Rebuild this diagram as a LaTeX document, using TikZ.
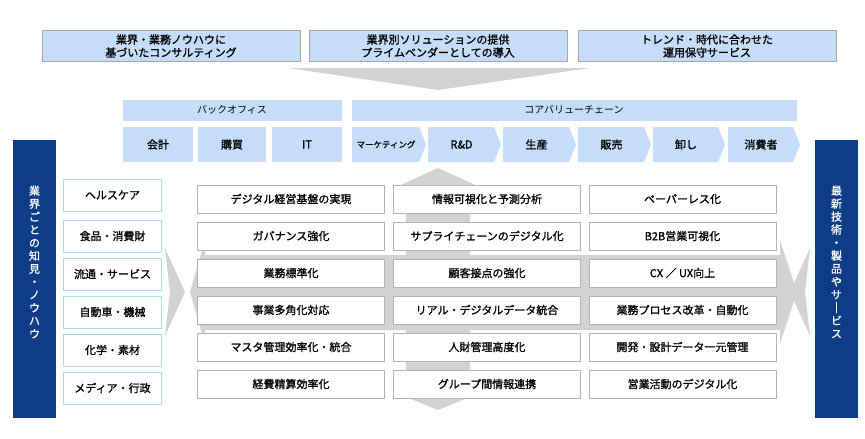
\documentclass[tikz,border=0pt]{standalone}
\usepackage{fontspec}
\setmainfont{Noto Sans CJK JP}[AutoFakeBold=1.2]
\begin{document}
\begin{tikzpicture}[x=1pt,y=-1pt,
  top/.style={draw=gray!70,fill=lbl,line width=0.8pt,font=\bfseries\fontsize{11}{13}\selectfont,align=center,inner sep=0},
  hdr/.style={fill=lbl,font=\fontsize{10}{11}\selectfont},
  cell/.style={draw=gray!60,fill=white,line width=0.8pt,minimum width=187pt,minimum height=28pt,font=\bfseries\fontsize{11}{12}\selectfont,inner sep=0},
  ind/.style={draw=cyanb,fill=white,line width=1pt,minimum width=98pt,minimum height=32pt,font=\bfseries\fontsize{11}{12}\selectfont},
  navy/.style={text=white,font=\bfseries\fontsize{11}{13}\selectfont,align=center,inner sep=0},
  vc/.style={font=\bfseries\fontsize{11}{12}\selectfont}]
\definecolor{lbl}{HTML}{C5DDF8}
\definecolor{navyc}{HTML}{0F3C87}
\definecolor{cyanb}{HTML}{A8DCEA}
\definecolor{arr}{HTML}{D2D2D2}
\useasboundingbox (0,0) rectangle (865,439);
% top boxes
\node[top,minimum width=258pt,minimum height=31pt] (t1) at (171,46) {業界・業務ノウハウに\\基づいたコンサルティング};
\node[top,minimum width=258pt,minimum height=31pt] (t2) at (438,46) {業界別ソリューションの提供\\プライムベンダーとしての導入};
\node[top,minimum width=258pt,minimum height=31pt] (t3) at (707,46) {トレンド・時代に合わせた\\運用保守サービス};
\fill[arr] (288,68) -- (590,68) -- (438,90) -- cycle;
% headers
\fill[lbl] (123,100) rectangle (342,121);
\node[hdr,fill=none] (bo) at (232,110) {バックオフィス};
\fill[lbl] (352,100) rectangle (797,121);
\node[hdr,fill=none] (cv) at (574,110) {コアバリューチェーン};
% back office
\foreach \a/\b/\t/\n in {123/193/会計/b1,198/266/購買/b2,272/342/IT/b3}{
  \fill[lbl] (\a,127) rectangle (\b,162);
  \node[vc] (\n) at ({(\a+\b)/2},144.5) {\t};}
% value chain chevrons
\foreach \a/\b/\t/\n in {352/426/{\fontsize{8.5}{10}\selectfont マーケティング}/v1,428/501/R\&D/v2,503/576/生産/v3,578/651/販売/v4,653/725/卸し/v5,728/800/消費者/v6}{
  \fill[lbl] (\a,127) -- ({\b-7},127) -- (\b,144.5) -- ({\b-7},162) -- (\a,162) -- cycle;
  \node[vc] (\n) at ({(\a+\b)/2-3},144.5) {\t};}
% navy bars
\fill[navyc] (13,140) rectangle (56,418);
\fill[navyc] (815,140) rectangle (858,418);
\node[navy] (ln) at (34.5,262) {業\\界\\ご\\と\\の\\知\\見\\・\\ノ\\ウ\\ハ\\ウ};
\node[navy] (rn) at (836.5,262) {最\\新\\技\\術\\・\\製\\品\\や\\サ\\｜\\ビ\\ス};
% side chevrons
\fill[arr] (165,248) -- (185,292) -- (165,336) -- (170,292) -- cycle;
\fill[arr] (810,248) -- (790,292) -- (810,336) -- (805,292) -- cycle;
% cross arrow
\fill[arr] (438,168) -- (482,188) -- (470,188) -- (470,255) -- (780,255) -- (780,240) -- (797,292) -- (780,344) -- (780,330)
  -- (470,330) -- (470,392) -- (482,392) -- (438,410) -- (394,392) -- (406,392) -- (406,330) -- (205,330) -- (205,344)
  -- (190,292) -- (205,240) -- (205,255) -- (406,255) -- (406,188) -- (394,188) -- cycle;
% industries
\foreach \y/\t/\n in {195/ヘルスケア/i1,236/食品・消費財/i2,274/流通・サービス/i3,312/自動車・機械/i4,350/化学・素材/i5,388/メディア・行政/i6}
  \node[ind] (\n) at (112.5,\y) {\t};
% grid
\foreach \y/\a/\b/\c/\r in {199/デジタル経営基盤の実現/情報可視化と予測分析/ペーパーレス化/1,
  236/ガバナンス強化/サプライチェーンのデジタル化/B2B営業可視化/2,
  273/業務標準化/顧客接点の強化/CX ／ UX向上/3,
  310/事業多角化対応/リアル・デジタルデータ統合/業務プロセス改革・自動化/4,
  347/マスタ管理効率化・統合/人財管理高度化/開発・設計データ一元管理/5,
  384/経費精算効率化/グループ間情報連携/営業活動のデジタル化/6}{
  \node[cell] (g\r a) at (291,\y) {\a};
  \node[cell] (g\r b) at (487,\y) {\b};
  \node[cell] (g\r c) at (682.5,\y) {\c};}
\end{tikzpicture}
\end{document}
